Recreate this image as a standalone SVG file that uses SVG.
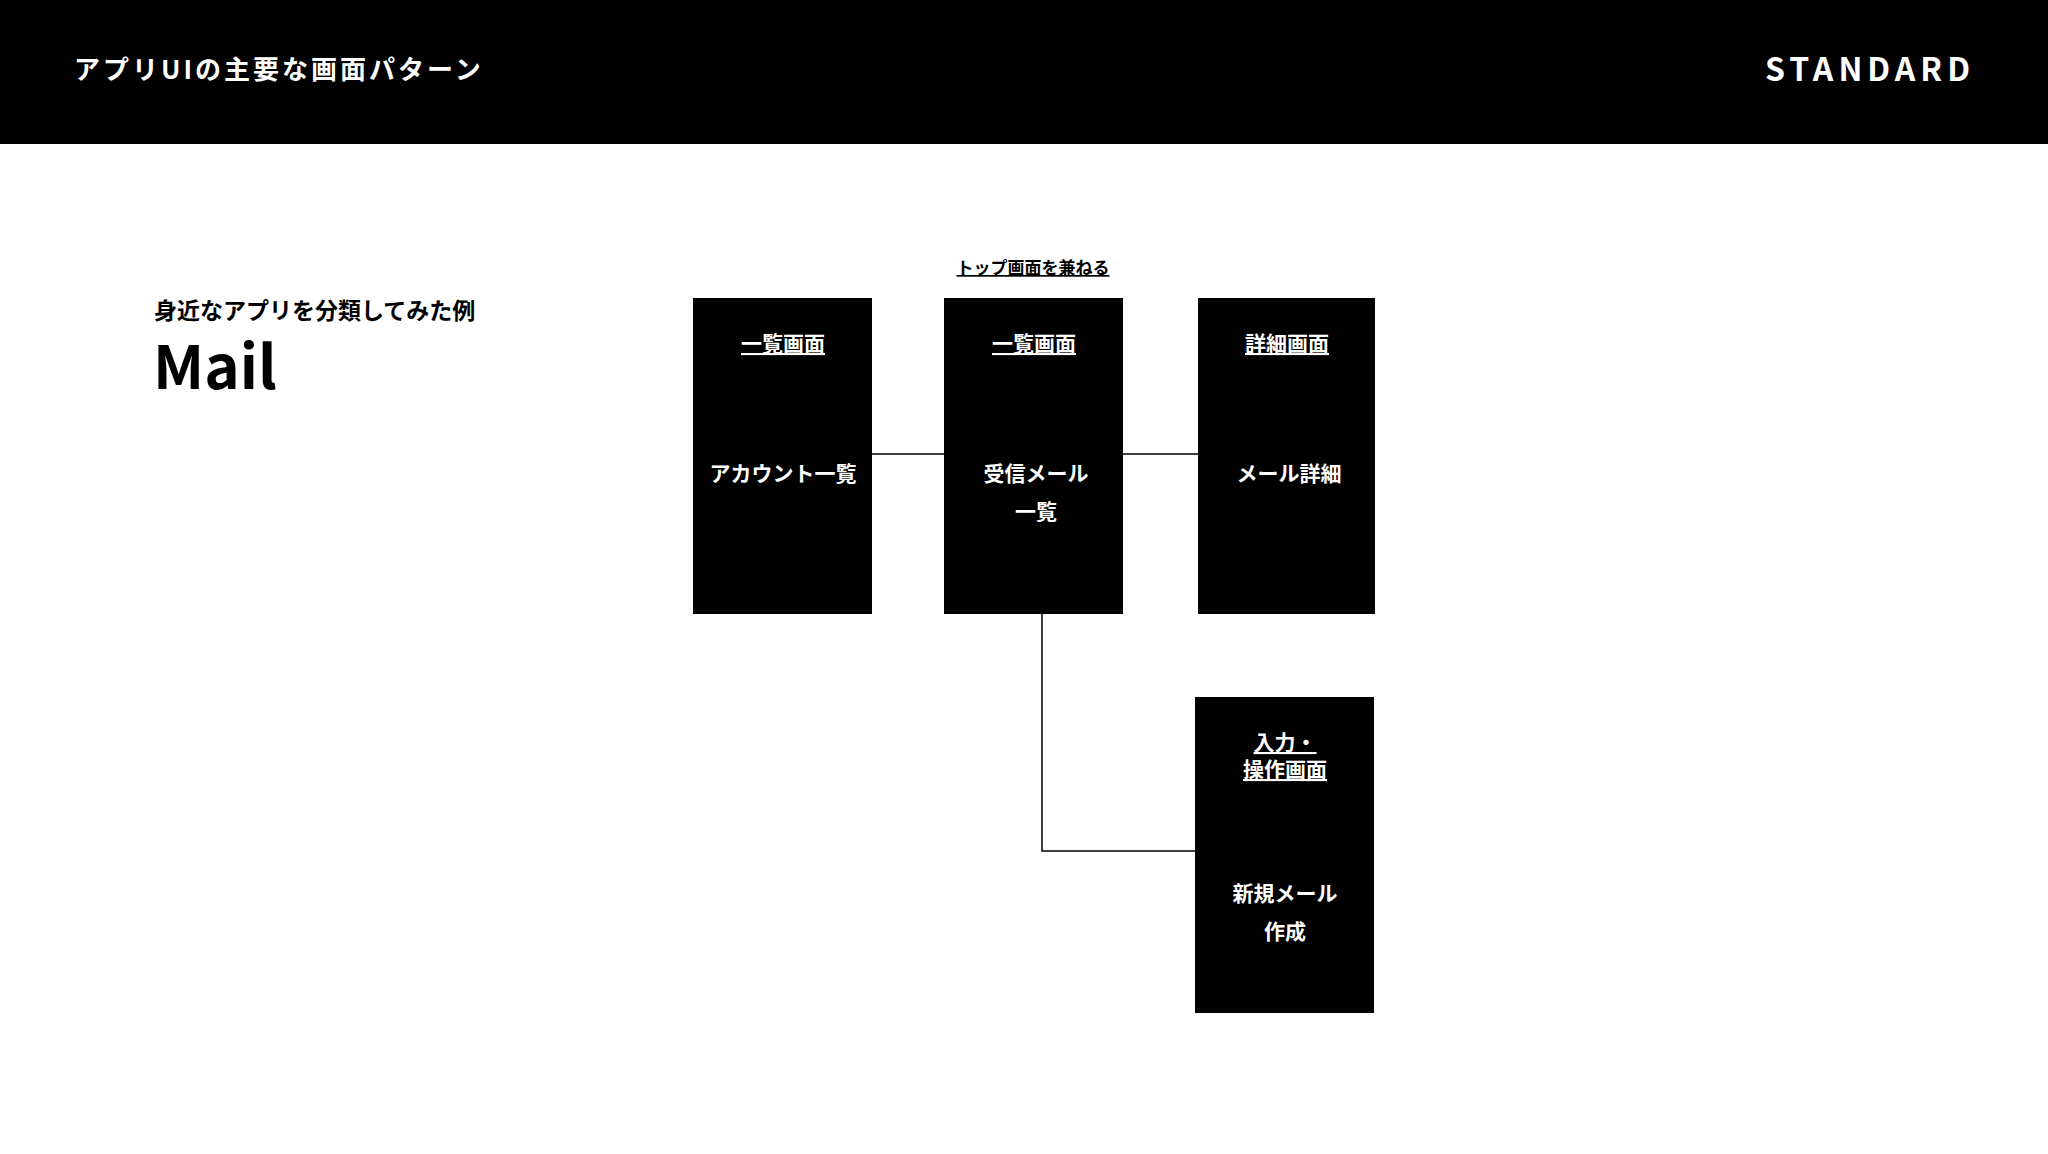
<svg xmlns="http://www.w3.org/2000/svg" width="2048" height="1154" viewBox="0 0 2048 1154">
<style>
.t{font-family:"Noto Sans CJK JP","Noto Sans",sans-serif;font-weight:bold}
.w{fill:#fff;font-size:21px;text-anchor:middle}
.u{text-decoration:underline}
.box{fill:#000}
.ln{stroke:#000;stroke-width:1.5;fill:none}
</style>
<rect width="2048" height="1154" fill="#fff"/>
<rect width="2048" height="144" fill="#000"/>
<text class="t" x="74" y="79" fill="#fff" font-size="26" letter-spacing="3">アプリUIの主要な画面パターン</text>
<text class="t" x="1975" y="81" fill="#fff" font-size="32" letter-spacing="5" text-anchor="end" font-family="Lato,sans-serif">STANDARD</text>
<text class="t" x="154" y="319" font-size="23">身近なアプリを分類してみた例</text>
<text class="t" x="153" y="389" font-size="60">Mail</text>
<g id="connectors">
<path class="ln" d="M872 454H944M1123 454H1198M1042 614V851H1195"/>
</g>
<text class="t u" x="1033" y="274" font-size="17" text-anchor="middle">トップ画面を兼ねる</text>
<g id="n1"><rect class="box" x="693" y="298" width="179" height="316"/>
<text class="t w u" x="783" y="351">一覧画面</text><text class="t w" x="783" y="481">アカウント一覧</text></g>
<g id="n2"><rect class="box" x="944" y="298" width="179" height="316"/>
<text class="t w u" x="1034" y="351">一覧画面</text><text class="t w" x="1036" y="481">受信メール</text><text class="t w" x="1036" y="519">一覧</text></g>
<g id="n3"><rect class="box" x="1198" y="298" width="177" height="316"/>
<text class="t w u" x="1287" y="351">詳細画面</text><text class="t w" x="1289" y="481">メール詳細</text></g>
<g id="n4"><rect class="box" x="1195" y="697" width="179" height="316"/>
<text class="t w u" x="1285" y="750">入力・</text><text class="t w u" x="1285" y="777">操作画面</text><text class="t w" x="1285" y="901">新規メール</text><text class="t w" x="1285" y="939">作成</text></g>
</svg>
